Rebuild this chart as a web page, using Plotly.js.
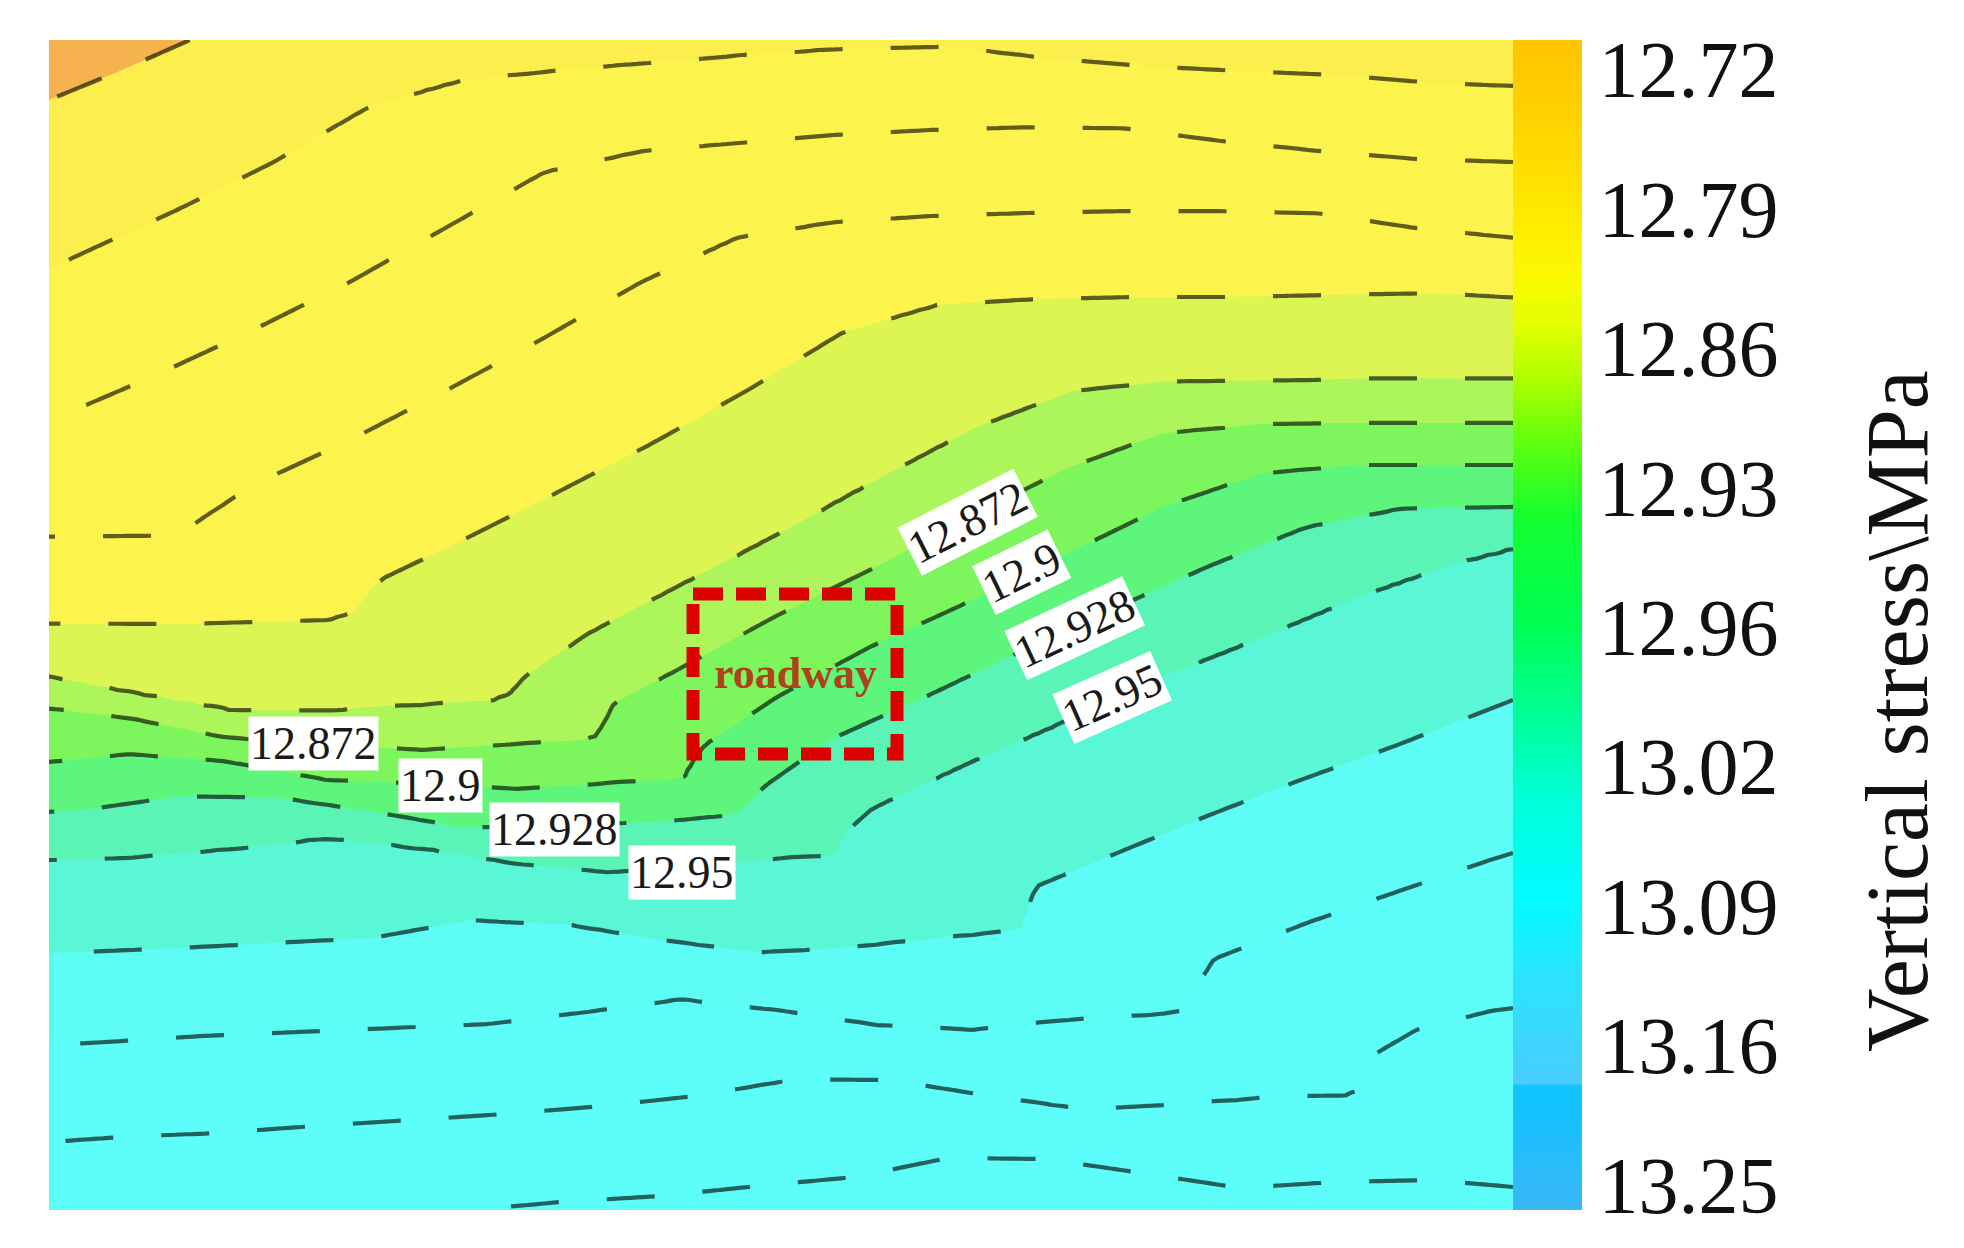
<!DOCTYPE html>
<html>
<head>
<meta charset="utf-8">
<script src="https://cdn.plot.ly/plotly-3.0.1.min.js"></script>
<style>
html,body{margin:0;padding:0;background:#ffffff;}
#chart{width:1964px;height:1248px;}
</style>
</head>
<body>
<div id="chart"></div>
<script>
// ---------------- DATA ----------------
// contour levels of vertical stress (MPa), from the top line to the bottom line
const levels = [12.704, 12.732, 12.760, 12.788, 12.816, 12.844, 12.872, 12.900, 12.928, 12.956, 12.984, 13.012, 13.040, 13.068];

// contour line traces: horizontal position x and depth y (from the top of the section)
const lineA_x = [0, 73, 141, 211, 1464];
const lineA_y = [60, 30, 0, -40, -40];
const lineB_x = [0, 30, 126, 223, 321, 413, 511, 607, 704, 803, 901, 997, 1094, 1191, 1289, 1385, 1464];
const lineB_y = [229, 215, 171, 123, 66, 40, 30, 22, 14, 8, 6, 18, 26, 31, 35, 43, 46];
const lineC_x = [0, 19, 107, 204, 301, 398, 495, 592, 689, 784, 881, 978, 1075, 1172, 1269, 1366, 1464];
const lineC_y = [381, 373, 335, 290, 242, 187, 132, 111, 103, 95, 90, 87, 88, 101, 111, 119, 122];
const lineD_x = [0, 129, 141, 204, 301, 398, 495, 592, 689, 784, 881, 978, 1075, 1172, 1269, 1366, 1464];
const lineD_y = [497, 496, 487, 445, 400, 350, 298, 242, 197, 182, 176, 173, 171, 171, 173, 188, 198];
const lineE_x = [0, 136, 233, 281, 306, 321, 335, 408, 505, 602, 699, 794, 891, 988, 1085, 1182, 1279, 1376, 1464];
const lineE_y = [584, 584, 582, 580, 572, 550, 538, 503, 454, 404, 350, 292, 264, 259, 257, 257, 255, 253, 257];
const lineF_x = [0, 83, 180, 277, 374, 441, 461, 476, 539, 636, 734, 828, 926, 1024, 1118, 1216, 1313, 1409, 1464];
const lineF_y = [637, 653, 670, 671, 665, 662, 655, 637, 594, 543, 492, 440, 388, 351, 342, 341, 339, 339, 339];
const lineG_x = [0, 81, 173, 258, 374, 468, 531, 547, 557, 565, 624, 729, 825, 918, 1016, 1114, 1211, 1308, 1405, 1464];
const lineG_y = [668, 678, 697, 704, 710, 704, 701, 697, 680, 663, 632, 575, 528, 479, 429, 393, 384, 383, 383, 383];
const lineH_x = [0, 80, 176, 277, 387, 468, 566, 616, 637, 643, 656, 728, 821, 913, 972, 1026, 1116, 1213, 1308, 1405, 1464];
const lineH_y = [722, 714, 721, 740, 744, 749, 743, 741, 737, 723, 705, 657, 607, 565, 536, 510, 466, 433, 425, 425, 425];
const lineI_x = [0, 35, 131, 228, 326, 415, 502, 616, 671, 691, 703, 716, 782, 876, 949, 1026, 1160, 1257, 1354, 1464];
const lineI_y = [772, 770, 756, 757, 772, 788, 786, 781, 777, 772, 760, 746, 699, 657, 622, 586, 526, 487, 468, 467];
const lineJ_x = [0, 83, 180, 277, 374, 471, 558, 627, 744, 784, 799, 824, 921, 1003, 1066, 1211, 1306, 1402, 1464];
const lineJ_y = [820, 817, 809, 798, 808, 824, 832, 828, 817, 816, 790, 768, 722, 687, 655, 598, 558, 524, 508];
const lineK_x = [0, 35, 132, 227, 323, 421, 517, 612, 709, 806, 903, 956, 973, 981, 986, 1056, 1153, 1249, 1346, 1441, 1464];
const lineK_y = [913, 912, 908, 903, 898, 880, 884, 900, 913, 907, 897, 892, 888, 865, 847, 818, 778, 741, 706, 669, 660];
const lineL_x = [0, 56, 151, 249, 343, 441, 537, 632, 729, 826, 923, 1020, 1117, 1141, 1149, 1165, 1260, 1356, 1441, 1464];
const lineL_y = [1005, 1002, 996, 992, 988, 984, 972, 959, 970, 985, 990, 980, 974, 970, 945, 919, 882, 849, 820, 813];
const lineM_x = [0, 71, 168, 265, 362, 456, 553, 647, 746, 843, 941, 1037, 1134, 1231, 1296, 1311, 1316, 1367, 1441, 1464];
const lineM_y = [1102, 1097, 1093, 1086, 1080, 1074, 1066, 1056, 1039, 1040, 1056, 1070, 1064, 1057, 1056, 1050, 1020, 990, 971, 968];
const lineN_x = [0, 421, 512, 612, 709, 806, 899, 996, 1093, 1191, 1285, 1384, 1464];
const lineN_y = [1210, 1170, 1162, 1156, 1146, 1137, 1118, 1119, 1133, 1148, 1142, 1140, 1147];

// labelled contour values
const contourLabels = ['12.872', '12.9', '12.928', '12.95'];
// colour bar tick labels (evenly spaced on the legend)
const cbTickText = ['12.72', '12.79', '12.86', '12.93', '12.96', '13.02', '13.09', '13.16', '13.25'];
// roadway outline (section coordinates)
const roadwayX = [644, 848];
const roadwayY = [554, 714];

// ---------------- build the grid the contour trace needs ----------------
const lines = [
  [lineA_x, lineA_y], [lineB_x, lineB_y], [lineC_x, lineC_y], [lineD_x, lineD_y],
  [lineE_x, lineE_y], [lineF_x, lineF_y], [lineG_x, lineG_y], [lineH_x, lineH_y],
  [lineI_x, lineI_y], [lineJ_x, lineJ_y], [lineK_x, lineK_y], [lineL_x, lineL_y],
  [lineM_x, lineM_y], [lineN_x, lineN_y]
];
function yAt(xs, ys, x) {
  for (let i = 0; i < xs.length - 1; i++) {
    if (x <= xs[i + 1]) {
      const t = (x - xs[i]) / (xs[i + 1] - xs[i]);
      return ys[i] + t * (ys[i + 1] - ys[i]);
    }
  }
  return ys[ys.length - 1];
}
const W = 1464, H = 1170;
const gx = [], gy = [];
for (let x = 0; x <= W; x += 6) gx.push(x);
for (let y = 0; y <= H; y += 5) gy.push(y);
const z = gy.map(() => new Array(gx.length));
const n = levels.length;
gx.forEach((x, c) => {
  const yl = lines.map(([lx, ly]) => yAt(lx, ly, x));
  gy.forEach((y, r) => {
    let v;
    if (y <= yl[0]) {
      v = levels[0] - (yl[0] - y) * (levels[1] - levels[0]) / (yl[1] - yl[0]);
    } else if (y >= yl[n - 1]) {
      v = levels[n - 1] + (y - yl[n - 1]) * (levels[n - 1] - levels[n - 2]) / (yl[n - 1] - yl[n - 2]);
    } else {
      let k = 0;
      while (y > yl[k + 1]) k++;
      v = levels[k] + (y - yl[k]) / (yl[k + 1] - yl[k]) * (levels[k + 1] - levels[k]);
    }
    z[r][c] = v;
  });
});

// ---------------- styles ----------------
const bandColors = ['#F6B24E', '#FCEF4D', '#FDF34D', '#FDF34D', '#FDF34D', '#DCF553', '#ACF55A',
                    '#7CF65C', '#5EF57C', '#5AF5B6', '#59F7D6', '#5DFDF6', '#5DFEF9', '#5DFEF9', '#5DFEF9'];
const bandScale = bandColors.map((col, i) => [i / (bandColors.length - 1), col]);

const cbScale = [
  [0.000, '#3AB6F6'], [0.106, '#0CC6FF'], [0.108, '#4ACCFF'], [0.200, '#2AE4FF'],
  [0.270, '#00FCFF'], [0.350, '#00FFD8'], [0.420, '#00FF98'], [0.500, '#00FF55'],
  [0.590, '#12FF30'], [0.650, '#58FF12'], [0.710, '#B0FF00'], [0.760, '#E6FF00'],
  [0.800, '#FCF800'], [0.870, '#FFE400'], [0.950, '#FFCE00'], [1.000, '#FFC400']
];
const cbIdx = cbTickText.map((t, i) => -i);

const serif = 'Liberation Serif, Times New Roman, serif';

const contourTrace = {
  type: 'contour',
  x: gx, y: gy, z: z,
  autocontour: false,
  contours: {start: levels[0], end: levels[n - 1] + 1e-4, size: levels[1] - levels[0], coloring: 'fill', showlines: true},
  colorscale: bandScale,
  line: {color: 'rgba(0,0,0,0.62)', width: 4.2, dash: '48px,48px', smoothing: 0},
  showscale: false,
  hoverinfo: 'skip'
};

const legendTrace = {
  type: 'heatmap',
  x: cbIdx.map((v, i) => 400 + i * 20),
  y: [600],
  z: [cbIdx],
  zmin: -8.182, zmax: 0.211,
  colorscale: cbScale,
  showscale: true,
  hoverinfo: 'skip',
  colorbar: {
    x: 1, xanchor: 'left', xpad: 0,
    y: 0.5, yanchor: 'middle', len: 1, lenmode: 'fraction', ypad: 0,
    thickness: 69, thicknessmode: 'pixels',
    outlinewidth: 0,
    tickmode: 'array', tickvals: cbIdx, ticktext: cbTickText,
    ticks: '', ticklen: 0,
    tickfont: {family: serif, size: 80, color: '#111111'}
  }
};

// label placement
const labelLeftX = [264, 391, 505, 633], labelLeftY = [703, 745, 789, 832];
const labelRightX = [918, 972, 1025, 1063], labelRightY = [482, 532, 588, 657];
const labelRightAngle = [-27, -26, -25, -24];

const annotations = [];
contourLabels.forEach((t, i) => {
  annotations.push({x: labelLeftX[i], y: labelLeftY[i], xref: 'x', yref: 'y', text: t, showarrow: false,
    font: {family: serif, size: 46, color: '#1a1a1a'}, bgcolor: '#ffffff', borderpad: 1, xanchor: 'center', yanchor: 'middle'});
  annotations.push({x: labelRightX[i], y: labelRightY[i], xref: 'x', yref: 'y', text: t, showarrow: false, textangle: labelRightAngle[i],
    font: {family: serif, size: 46, color: '#1a1a1a'}, bgcolor: '#ffffff', borderpad: 1, xanchor: 'center', yanchor: 'middle'});
});
annotations.push({x: (roadwayX[0] + roadwayX[1]) / 2, y: 633, xref: 'x', yref: 'y', text: '<b>roadway</b>', showarrow: false,
  font: {family: serif, size: 44, color: '#AE421A'}, xanchor: 'center', yanchor: 'middle'});
annotations.push({x: 1.263, y: 0.4265, xref: 'paper', yref: 'paper', text: 'Vertical stress\\MPa', showarrow: false, textangle: -90,
  font: {family: serif, size: 88, color: '#111111'}, xanchor: 'center', yanchor: 'middle'});

const layout = {
  width: 1964, height: 1248,
  margin: {l: 49, r: 451, t: 40, b: 38, pad: 0},
  paper_bgcolor: '#ffffff', plot_bgcolor: '#ffffff',
  showlegend: false,
  xaxis: {range: [0, W], visible: false, showgrid: false, zeroline: false, fixedrange: true},
  yaxis: {range: [H, 0], visible: false, showgrid: false, zeroline: false, fixedrange: true},
  shapes: [{type: 'rect', xref: 'x', yref: 'y', x0: roadwayX[0], x1: roadwayX[1], y0: roadwayY[0], y1: roadwayY[1],
    line: {color: '#DC0000', width: 13, dash: '30px,13px'}, fillcolor: 'rgba(0,0,0,0)'}],
  annotations: annotations
};

Plotly.newPlot('chart', [legendTrace, contourTrace], layout, {staticPlot: true, displayModeBar: false});
</script>
</body>
</html>
